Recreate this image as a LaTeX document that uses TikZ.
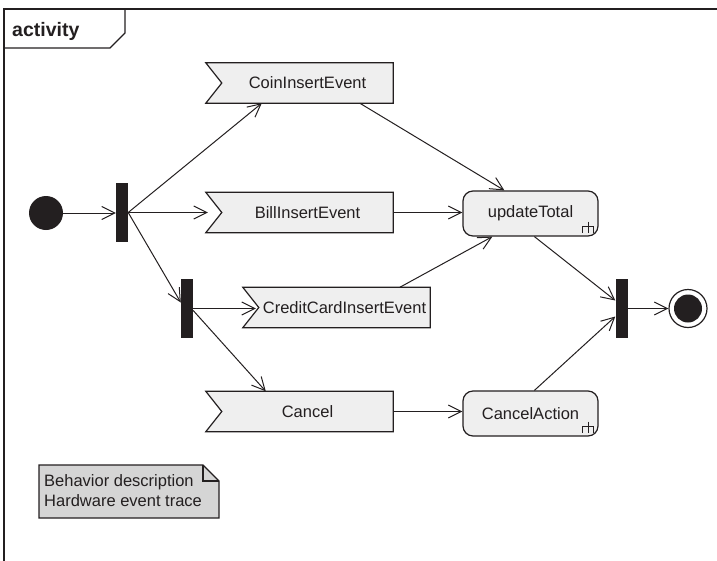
\documentclass[tikz,border=0pt]{standalone}
\usepackage{fontspec}
\setmainfont{Liberation Sans}
\usetikzlibrary{arrows.meta,calc}
\pgfdeclarelayer{background}
\pgfsetlayers{background,main}
\definecolor{ink}{HTML}{231F20}
\definecolor{evtfill}{HTML}{EFEFEF}
\definecolor{notefill}{HTML}{D5D5D5}

% notched outline of an accept-event node, drawn behind its label
\newcommand\evtoutline[1]{%
  \begin{pgfonlayer}{background}
    \filldraw[evtshape] ($(#1.north west)+(-16,0)$) -- (#1.north east)
      -- (#1.south east) -- ($(#1.south west)+(-16,0)$) -- (#1.west) -- cycle;
  \end{pgfonlayer}}
% rake symbol in the lower right corner of a call-behavior action
\newcommand\rakesym[1]{%
  \draw[rakeline] ($(#1.south east)+(-10.5,-15)$) -- ++(0,11);
  \draw[rakeline] ($(#1.south east)+(-16,-4)$) -- ++(0,-6) -- ++(11,0) -- ++(0,6);}

\begin{document}
\begin{tikzpicture}[x=1pt,y=-1pt,
  lbl/.style={font=\fontsize{16.5}{19}\selectfont, text=ink},
  flow/.style={draw=ink, line width=1pt,
    -{Straight Barb[length=13pt,width=13pt,line width=1pt]}},
  evtlabel/.style={lbl, minimum width=171pt, minimum height=40pt, inner sep=0pt},
  evtshape/.style={draw=ink, fill=evtfill, line width=1.2pt, line join=miter},
  action/.style={lbl, draw=ink, fill=evtfill, line width=1.2pt,
    rounded corners=10pt, minimum width=135pt, minimum height=45pt, inner sep=0pt},
  rakeline/.style={draw=ink, line width=1pt},
  bar/.style={fill=ink, draw=none, minimum width=12pt, minimum height=59pt, inner sep=0pt},
  initnode/.style={circle, fill=ink, draw=none, minimum size=34pt, inner sep=0pt},
  finalnode/.style={circle, draw=ink, line width=1.2pt, minimum size=38pt, inner sep=0pt,
    path picture={\fill[ink] (path picture bounding box.center) circle (14pt);}},
  framelines/.style={draw=ink, line width=1.3pt},
]
\useasboundingbox (0,0) rectangle (717,560);
\clip (0,0) rectangle (717,560);

% diagram frame with its name tab
\draw[framelines] (4,570) -- (4,9) -- (730,9);
\draw[framelines] (4,48) -- (110,48) -- (125,33) -- (125,9);
\node[anchor=base west, inner sep=0pt, text=ink,
  font=\fontsize{19.5}{22}\selectfont\bfseries] (title) at (12,36) {activity};

% control nodes
\node[initnode] (init) at (46,213) {};
\node[bar] (fork1) at (122,212.5) {};
\node[bar] (fork2) at (187,308.5) {};
\node[bar] (join) at (621.5,308.5) {};
\node[finalnode] (final) at (688,308.5) {};

% accept-event actions
\node[evtlabel] (coin) at (307.5,83) {CoinInsertEvent};
\evtoutline{coin}
\node[evtlabel] (bill) at (307.5,212.5) {BillInsertEvent};
\evtoutline{bill}
\node[evtlabel] (credit) at (344.5,307.5) {CreditCardInsertEvent};
\evtoutline{credit}
\node[evtlabel] (cancel) at (307.5,411.5) {Cancel};
\evtoutline{cancel}

% call-behavior actions
\node[action] (update) at (530.5,213.5) {updateTotal};
\rakesym{update}
\node[action] (cact) at (530.5,413.5) {CancelAction};
\rakesym{cact}

% control flows
\draw[flow] (init.east) -- (init.east -| fork1.west);
\draw[flow] (fork1.east) -- ($(coin.south west)+(40,0)$);
\draw[flow] (fork1.east) -- ($(bill.west)+(-14,0)$);
\draw[flow] (fork1.east) -- ($(fork2.west)+(0,-6)$);
\draw[flow] (fork2.east) -- ($(fork2.east -| credit.west)+(-3,0)$);
\draw[flow] ($(fork2.east)+(0,2)$) -- ($(cancel.north west)+(44,0)$);
\draw[flow] ($(coin.south west)+(138,0)$) -- ($(update.north west)+(42,0)$);
\draw[flow] (bill.east) -- (bill.east -| update.west);
\draw[flow] ($(credit.north west)+(141,0)$) -- ($(update.south west)+(30,0)$);
\draw[flow] ($(update.south west)+(72,0)$) -- ($(join.west)+(0,-8)$);
\draw[flow] ($(cact.north west)+(72,0)$) -- ($(join.west)+(0,8)$);
\draw[flow] (cancel.east) -- (cancel.east -| cact.west);
\draw[flow] (join.east) -- (final.west);

% note
\filldraw[draw=ink, fill=notefill, line width=1.2pt, line join=miter]
  (39,465) -- (203,465) -- (219,481) -- (219,518) -- (39,518) -- cycle;
\draw[draw=ink, line width=1.2pt] (203,465) -- (203,481) -- (219,481);
\node[lbl, anchor=base west, inner sep=0pt] (note1) at (44,486) {Behavior description};
\node[lbl, anchor=base west, inner sep=0pt] (note2) at (44,506) {Hardware event trace};
\end{tikzpicture}
\end{document}
